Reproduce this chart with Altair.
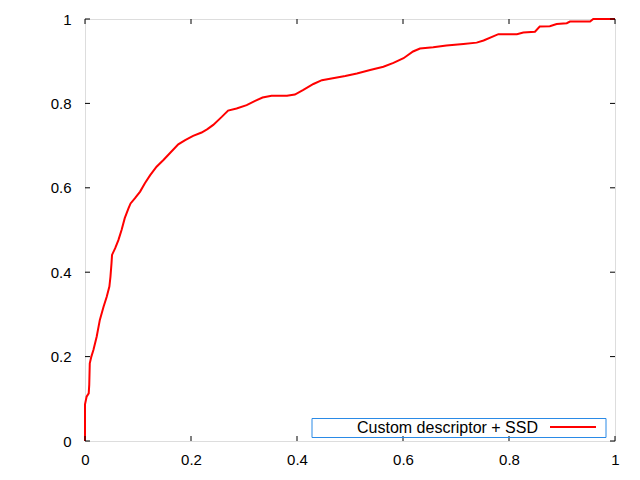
import altair as alt
import pandas as pd

# ROC curve readings (false positive rate, true positive rate)
fpr = [0.0, 0.0, 0.003, 0.007, 0.008, 0.009, 0.012, 0.016, 0.022, 0.028, 0.035, 0.041,
       0.046, 0.048, 0.050, 0.051, 0.057, 0.063, 0.069, 0.075, 0.082, 0.086, 0.094,
       0.104, 0.113, 0.123, 0.135, 0.148, 0.160, 0.176, 0.189, 0.204, 0.220, 0.231,
       0.242, 0.258, 0.270, 0.286, 0.305, 0.321, 0.335, 0.352, 0.381, 0.396, 0.412,
       0.431, 0.447, 0.465, 0.491, 0.513, 0.538, 0.563, 0.582, 0.601, 0.619, 0.632,
       0.657, 0.682, 0.714, 0.739, 0.752, 0.780, 0.815, 0.827, 0.849, 0.858, 0.877,
       0.890, 0.909, 0.915, 0.953, 0.959, 1.0]
tpr = [0.0, 0.087, 0.105, 0.113, 0.133, 0.184, 0.200, 0.216, 0.247, 0.287, 0.318, 0.342,
       0.366, 0.389, 0.421, 0.441, 0.457, 0.476, 0.500, 0.528, 0.551, 0.563, 0.575,
       0.591, 0.611, 0.630, 0.650, 0.666, 0.682, 0.703, 0.713, 0.723, 0.731, 0.739,
       0.749, 0.768, 0.783, 0.788, 0.796, 0.806, 0.814, 0.818, 0.818, 0.821, 0.832,
       0.846, 0.855, 0.859, 0.865, 0.871, 0.879, 0.887, 0.896, 0.907, 0.923, 0.930,
       0.933, 0.937, 0.941, 0.944, 0.949, 0.964, 0.964, 0.968, 0.970, 0.982, 0.983,
       0.988, 0.990, 0.994, 0.994, 1.0, 1.0]
tick_values = [0.0, 0.2, 0.4, 0.6, 0.8, 1.0]
legend_label = "Custom descriptor + SSD"

W, H = 530, 422
FONT = "Liberation Sans"
FS = 15
TICK = 5

df = pd.DataFrame({"fpr": fpr, "tpr": tpr, "order": list(range(len(fpr)))})
ticks = pd.DataFrame({"v": tick_values})
one = pd.DataFrame({"label": [legend_label]})

xscale = alt.Scale(domain=[0, 1], nice=False, zero=False)
yscale = alt.Scale(domain=[0, 1], nice=False, zero=False)

xaxis = alt.Axis(values=tick_values, format="~g", tickSize=0, domain=False, grid=False,
                 labelFont=FONT, labelFontSize=FS, labelColor="#000000", labelPadding=11,
                 title=None, labelFlush=False)
yaxis = alt.Axis(values=tick_values, format="~g", tickSize=0, domain=False, grid=False,
                 labelFont=FONT, labelFontSize=FS, labelColor="#000000", labelPadding=14,
                 title=None, labelFlush=False)

line = alt.Chart(df).mark_line(color="#ff0000", strokeWidth=2, interpolate="linear").encode(
    x=alt.X("fpr:Q", scale=xscale, axis=xaxis),
    y=alt.Y("tpr:Q", scale=yscale, axis=yaxis),
    order="order:Q",
)

tb = alt.Chart(ticks).mark_rule(color="black", strokeWidth=1).encode(
    x=alt.X("v:Q", scale=xscale), y=alt.value(H), y2=alt.value(H - TICK))
tt = alt.Chart(ticks).mark_rule(color="black", strokeWidth=1).encode(
    x=alt.X("v:Q", scale=xscale), y=alt.value(0), y2=alt.value(TICK))
tl = alt.Chart(ticks).mark_rule(color="black", strokeWidth=1).encode(
    y=alt.Y("v:Q", scale=yscale), x=alt.value(0), x2=alt.value(TICK))
tr = alt.Chart(ticks).mark_rule(color="black", strokeWidth=1).encode(
    y=alt.Y("v:Q", scale=yscale), x=alt.value(W), x2=alt.value(W - TICK))

box = alt.Chart(one).mark_rect(fill="transparent", stroke="#2a8ae6", strokeWidth=1).encode(
    x=alt.value(227), x2=alt.value(521), y=alt.value(399.5), y2=alt.value(418.5))
txt = alt.Chart(one).mark_text(align="right", baseline="middle", font=FONT, fontSize=16,
                               color="#000000").encode(
    x=alt.value(453), y=alt.value(408.5), text="label:N")
sample = alt.Chart(one).mark_rule(color="#ff0000", strokeWidth=2).encode(
    x=alt.value(465), x2=alt.value(511), y=alt.value(408))

chart = alt.layer(line, tb, tt, tl, tr, box, txt, sample).properties(
    width=W, height=H,
    autosize=alt.AutoSizeParams(type="none"),
    padding={"left": 77, "top": 11, "right": 17, "bottom": 31},
).configure_view(stroke="black", strokeWidth=1).configure(background="white")

chart.save("out.html", embed_options={"renderer": "svg", "actions": False})
